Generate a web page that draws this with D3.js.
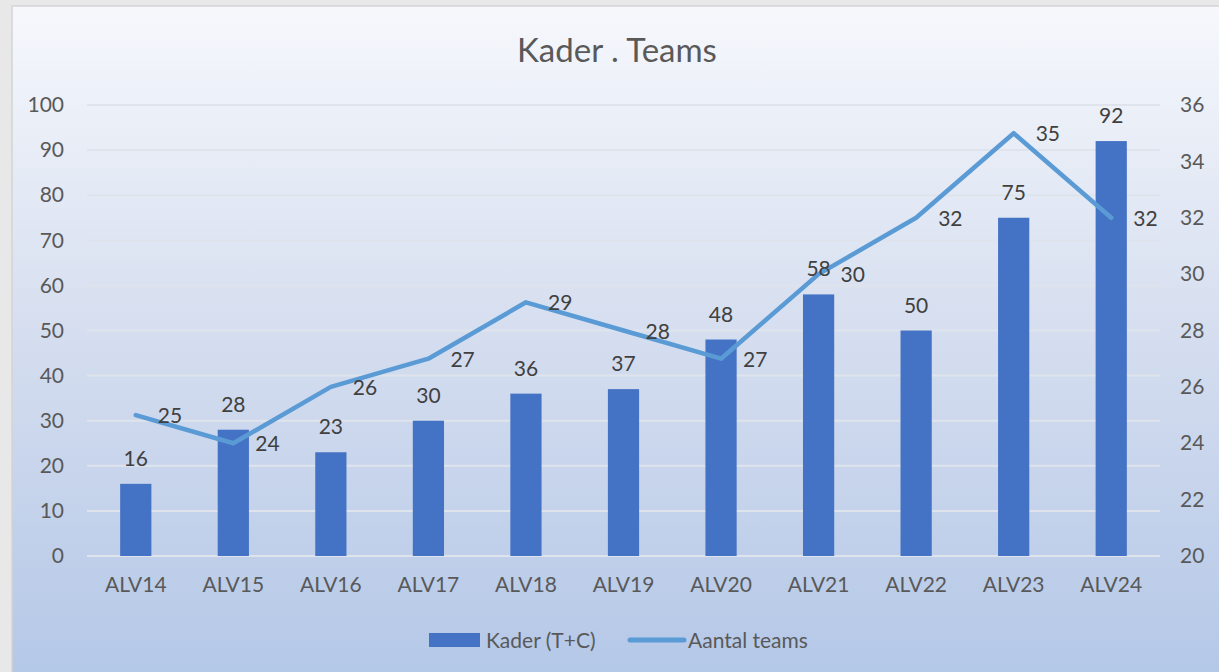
<!DOCTYPE html>
<html><head><meta charset="utf-8">
<script src="https://cdn.jsdelivr.net/npm/d3@7"></script>
<style>
html,body{margin:0;padding:0;background:#e8e8e8;}
svg{display:block;font-family:Lato,"Open Sans",sans-serif;}
</style></head>
<body>
<svg id="c" width="1219" height="672"></svg>
<script>
const categories = ["ALV14","ALV15","ALV16","ALV17","ALV18","ALV19","ALV20","ALV21","ALV22","ALV23","ALV24"];
const kader = [16,28,23,30,36,37,48,58,50,75,92];
const teams = [25,24,26,27,29,28,27,30,32,35,32];
const leftTicks = [0,10,20,30,40,50,60,70,80,90,100];
const rightTicks = [20,22,24,26,28,30,32,34,36];
const title = "Kader . Teams";
const seriesNames = ["Kader (T+C)","Aantal teams"];

(function(){
const svg = d3.select("#c");
const defs = svg.append("defs");
const g = defs.append("linearGradient").attr("id","bg").attr("x1",0).attr("y1",0).attr("x2",0).attr("y2",1);
g.append("stop").attr("offset","0%").attr("stop-color","#f6f8fc");
g.append("stop").attr("offset","50%").attr("stop-color","#d4ddef");
g.append("stop").attr("offset","100%").attr("stop-color","#b3c7e7");

svg.append("rect").attr("x",12).attr("y",6).attr("width",1220).attr("height",680)
  .attr("fill","url(#bg)").attr("stroke","#d4d4d4").attr("stroke-width",1.5);

const pL = 87, pR = 1160, pT = 105, pB = 556;
const x = d3.scaleBand().domain(categories).range([pL,pR]).paddingInner(0.68).paddingOuter(0.34);
const y = d3.scaleLinear().domain([0,100]).range([pB,pT]);
const y2 = d3.scaleLinear().domain([20,36]).range([pB,pT]);
const textCol = "#595959";
const fs = 21;

svg.append("g").selectAll("line").data(leftTicks).join("line")
  .attr("x1",pL).attr("x2",pR).attr("y1",d=>y(d)).attr("y2",d=>y(d))
  .attr("stroke","#dfe4ec").attr("stroke-width",2);

const la = svg.append("g").attr("transform",`translate(${pL},0)`)
  .call(d3.axisLeft(y).tickValues(leftTicks).tickSize(0).tickPadding(23));
la.select(".domain").remove();
la.selectAll("text").attr("fill",textCol).attr("font-size",fs).attr("font-family","Lato,sans-serif");

const ra = svg.append("g").attr("transform",`translate(${pR},0)`)
  .call(d3.axisRight(y2).tickValues(rightTicks).tickSize(0).tickPadding(20));
ra.select(".domain").remove();
ra.selectAll("text").attr("fill",textCol).attr("font-size",fs).attr("font-family","Lato,sans-serif");

const xa = svg.append("g").attr("transform",`translate(0,${pB})`)
  .call(d3.axisBottom(x).tickSize(0).tickPadding(21));
xa.select(".domain").remove();
xa.selectAll("text").attr("fill",textCol).attr("font-size",fs).attr("font-family","Lato,sans-serif");

svg.append("g").selectAll("rect").data(kader).join("rect")
  .attr("x",(d,i)=>x(categories[i])).attr("width",x.bandwidth())
  .attr("y",d=>y(d)).attr("height",d=>pB-y(d)).attr("fill","#4472c4");

const line = d3.line().x((d,i)=>x(categories[i])+x.bandwidth()/2).y(d=>y2(d));
svg.append("path").datum(teams).attr("d",line).attr("fill","none")
  .attr("stroke","#5b9bd5").attr("stroke-width",4.5).attr("stroke-linejoin","round").attr("stroke-linecap","round");

svg.append("g").selectAll("text").data(kader).join("text")
  .attr("x",(d,i)=>x(categories[i])+x.bandwidth()/2).attr("y",d=>y(d)-18)
  .attr("text-anchor","middle").attr("fill","#404040").attr("font-size",fs).text(d=>d);

svg.append("g").selectAll("text").data(teams).join("text")
  .attr("x",(d,i)=>x(categories[i])+x.bandwidth()/2+22).attr("y",d=>y2(d)+8)
  .attr("text-anchor","start").attr("fill","#404040").attr("font-size",fs).text(d=>d);

svg.append("text").attr("x",617).attr("y",62).attr("text-anchor","middle")
  .attr("fill",textCol).attr("font-size",33).text(title);

const lg = svg.append("g");
lg.append("rect").attr("x",429).attr("y",633).attr("width",51).attr("height",14).attr("fill","#4472c4");
lg.append("text").attr("x",486).attr("y",648).attr("fill",textCol).attr("font-size",fs).text(seriesNames[0]);
lg.append("line").attr("x1",630).attr("x2",684).attr("y1",640).attr("y2",640)
  .attr("stroke","#5b9bd5").attr("stroke-width",5).attr("stroke-linecap","round");
lg.append("text").attr("x",688).attr("y",648).attr("fill",textCol).attr("font-size",fs).text(seriesNames[1]);
})();
</script>
</body></html>
